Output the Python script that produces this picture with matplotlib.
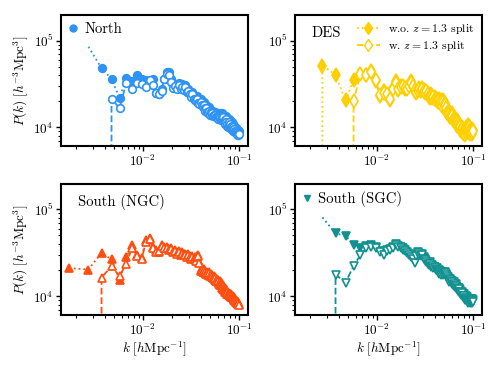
import numpy as np
import matplotlib
matplotlib.use("Agg")
import matplotlib.pyplot as plt
from matplotlib.lines import Line2D

plt.rcParams['font.family'] = ['cmr10', 'DejaVu Serif']
plt.rcParams['mathtext.fontset'] = 'cm'
plt.rcParams['axes.formatter.use_mathtext'] = True
plt.rcParams['axes.unicode_minus'] = False

nan = np.nan
# k bins (h/Mpc)
k = 0.0017 + 0.001 * np.arange(99)

north_wo = [nan, 85000, 48000, 36000, 22000, 37000, 34500, 40000, 36000, 35000,
            32000, 36500, 25000, 24000, 28000, 36000, 44000, 43500, 36000, 31000,
            32000, 30500, 32500, 29000, 31500, 29000, 30500, 27000, 28000, 25500,
            24000, 25500, 23000, 22000, 21500, 23000, 20500, 20000, 21000, 19000,
            18500, 19500, 17500, 17000, 18000, 16500, 16000, 17000, 15500, 16000,
            15000, 15500, 14500, 15000, 14500, 15000, 14000, 14500, 13500, 14000,
            14500, 13500, 14000, 13000, 14500, 13500, 13000, 14000, 12500, 13000,
            12000, 13500, 12500, 11500, 12000, 11000, 12500, 11500, 11000, 12000,
            11000, 10500, 11500, 10500, 11000, 10000, 10500, 9800, 10500, 9500,
            10000, 9200, 9800, 9000, 9500, 8800, 9200, 8700, 9000]
north_w = [nan, nan, -1000, 21300, 16700, 32500, 28000, 32500, 31500, 29500,
           35500, 31000, 25000, 24500, 26500, 36000, 41000, 40000, 33500, 28500,
           30000, 28000, 31000, 27500, 29500, 27000, 29000, 25500, 26500, 24000,
           22500, 24000, 21500, 20500, 20000, 21500, 19000, 18500, 19500, 18000,
           17000, 18000, 16500, 15500, 16500, 15000, 14500, 15500, 14000, 15000,
           14000, 14500, 13500, 14000, 13500, 14000, 13000, 13500, 12500, 13500,
           13500, 12500, 13000, 12000, 13500, 12500, 12000, 13000, 11500, 12000,
           11000, 12500, 11500, 10500, 11000, 10000, 11500, 10500, 10000, 11000,
           10000, 9700, 10500, 9600, 10000, 9200, 9700, 9000, 9600, 8800,
           9200, 8500, 9000, 8300, 8800, 8200, 8500, 8100, 8400]

des_wo = [-1000, 51600, 40400, 20400, 34700, 41400, 40400, 45000, 33800, 22700,
          26000, 23800, 20800, 28400, 33800, 27100, 30000, 29000, 27500, 28400,
          31000, 33800, 29000, 26000, 24800, 27000, 28500, 26000, 28400, 27000,
          26000, 25000, 24800, 23500, 22000, 24000, 23000, 21800, 22500, 20800,
          21500, 19500, 20800, 21500, 19000, 20500, 18000, 20800, 17500, 19000,
          16500, 17500, 15000, 16000, 14000, 15000, 13400, 14000, 13000, 14500,
          12500, 13000, 12000, 12800, 12300, 11500, 12000, 11000, 11500, 10500,
          11000, 10000, 10500, 9800, 9400, 10000, 9400, 9000, 9500, 8800,
          9400, 8500, 9000, 9800, 10200, 9500, 10700, 10000, 9200, 10500,
          9500, 8800, 9800, 9000, 9500, 8800, 9500, 9000, 9400]
des_w = [nan, nan, nan, -1000, 19900, 41000, 40000, 44000, 35000, 23500,
         25000, 24500, 21500, 27500, 32500, 28000, 29000, 30000, 28500, 27500,
         30000, 32500, 30000, 27000, 25500, 26000, 27500, 27000, 27500, 26000,
         25000, 26000, 24000, 22500, 23000, 23000, 22000, 22500, 21500, 21500,
         20500, 20000, 20000, 20500, 19500, 19500, 17500, 19500, 18000, 18000,
         15500, 16500, 14500, 15000, 14500, 14000, 13000, 13500, 13500, 13500,
         12000, 12500, 12500, 12000, 11800, 11000, 11500, 10500, 11000, 10000,
         10500, 9600, 10000, 9300, 9000, 9500, 9000, 8700, 9000, 8400,
         9000, 8200, 8600, 9300, 9700, 9000, 10200, 9500, 8800, 10000,
         9000, 8400, 9300, 8600, 9000, 8400, 9000, 8600, 9000]

ngc_wo = [21200, 20300, 31600, 26500, 15600, 28000, 38700, 29700, 27900, 44200,
          46300, 37000, 33900, 32400, 38700, 37000, 36500, 35000, 36000, 33300,
          34000, 32000, 33000, 31000, 32000, 30500, 31000, 29500, 31000, 29000,
          28000, 29000, 27200, 28000, 26500, 29000, 29700, 25000, 20000, 21000,
          19500, 20500, 19000, 19500, 18500, 19000, 18300, 18800, 17500, 18000,
          17000, 17500, 16700, 17000, 16000, 16700, 15500, 16000, 15000, 15500,
          14500, 15000, 14000, 14500, 14000, 13000, 13500, 12500, 12000, 12500,
          11700, 12000, 11500, 11000, 11500, 11000, 10700, 11000, 10500, 10700,
          10200, 10500, 10000, 10200, 9800, 10000, 9500, 9800, 9300, 9000,
          9300, 8800, 9000, 8600, 8800, 8500, 8300, 8500, 8200]
ngc_w = [nan, -1000, 16400, 22200, 17000, 23800, 36000, 29000, 27000, 42000,
         45000, 36000, 32500, 33500, 37500, 36000, 35500, 34000, 35000, 32500,
         33000, 31000, 32000, 30000, 31000, 29500, 30000, 28500, 30000, 28000,
         27000, 28000, 26500, 27000, 25500, 28000, 29000, 24000, 19500, 20000,
         19000, 20000, 18500, 19000, 18000, 18500, 17800, 18300, 17000, 17500,
         16500, 17000, 16200, 16500, 15500, 16200, 15000, 15500, 14500, 15000,
         14000, 14500, 13500, 14000, 13500, 12500, 13000, 12000, 11700, 12000,
         11300, 11700, 11200, 10700, 11200, 10700, 10400, 10700, 10200, 10400,
         9900, 10200, 9700, 9900, 9500, 9700, 9200, 9500, 9000, 8800,
         9000, 8600, 8800, 8400, 8600, 8300, 8100, 8300, 8000]

sgc_wo = [nan, 80800, 52900, 49600, 39400, 35500, 38000, 39400, 37000, 33000,
          30300, 33900, 35000, 37000, 39800, 38000, 36500, 35500, 34000, 32400,
          31000, 29000, 28000, 24900, 30000, 32400, 31000, 29700, 30500, 28000,
          27000, 25500, 24000, 23800, 24500, 22500, 23000, 21800, 22000, 20500,
          21000, 19500, 20000, 18800, 19500, 18300, 19000, 18300, 18500, 19100,
          17500, 18000, 17000, 16500, 16000, 15300, 16000, 15000, 14500, 15000,
          14000, 14500, 13500, 13200, 13800, 13000, 12800, 12500, 12000, 12500,
          11500, 11200, 11800, 11000, 10800, 11200, 10500, 10300, 10000, 10500,
          9800, 9500, 10000, 9400, 9700, 9200, 9000, 9400, 8800, 9200,
          9000, 8700, 9200, 8800, 9400, 9000, 8700, 9200, 9000]
sgc_w = [nan, -1000, 17800, 14400, 22300, 29700, 35500, 37000, 36000, 32000,
         29500, 33000, 34000, 36000, 38500, 37000, 35500, 34500, 33000, 31500,
         30000, 28000, 27000, 24000, 29000, 31500, 30000, 29000, 29500, 27000,
         26000, 24500, 23500, 23000, 23500, 21800, 22300, 21000, 21300, 20000,
         20300, 19000, 19300, 18200, 18800, 17800, 18300, 17700, 18000, 18500,
         17000, 17500, 16500, 16000, 15500, 14800, 15500, 14500, 14000, 14500,
         13500, 14000, 13000, 12800, 13300, 12500, 12300, 12000, 11600, 12000,
         11100, 10800, 11300, 10600, 10400, 10800, 10100, 9900, 9600, 10100,
         9400, 9100, 9600, 9000, 9300, 8800, 8600, 9000, 8400, 8800,
         8600, 8300, 8800, 8400, 9000, 8600, 8300, 8800, 8600]

panels = [
    dict(name='North', wo=north_wo, w=north_w, color='#2f93f3', marker='o', ms=5.5, mstart=2),
    dict(name='DES', wo=des_wo, w=des_w, color='#ffd000', marker='d', ms=7.5, mstart=0),
    dict(name='South (NGC)', wo=ngc_wo, w=ngc_w, color='#ff4e10', marker='^', ms=5.5, mstart=0),
    dict(name='South (SGC)', wo=sgc_wo, w=sgc_w, color='#129191', marker='v', ms=5.5, mstart=2),
]

fig = plt.figure(figsize=(5.0, 3.7), dpi=100)
rects = [(0.122, 0.6054, 0.374, 0.354), (0.59, 0.6054, 0.374, 0.354),
         (0.122, 0.1486, 0.374, 0.355), (0.59, 0.1486, 0.374, 0.355)]

for idx, (p, r) in enumerate(zip(panels, rects)):
    ax = fig.add_axes(r)
    ax.set_xscale('log')
    ax.set_yscale('log')
    c = p['color']
    wo = np.array(p['wo'], dtype=float)
    w = np.array(p['w'], dtype=float)
    ax.plot(k, wo, ls=':', lw=1.3, color=c, marker=p['marker'], ms=p['ms'],
            mfc=c, mec=c, mew=1.2, markevery=list(range(p['mstart'], len(k))))
    ax.plot(k, w, ls='--', lw=1.3, color=c, marker=p['marker'], ms=p['ms'],
            mfc='white', mec=c, mew=1.2)
    ax.set_xlim(1.4e-3, 0.124)
    ax.set_ylim(6.1e3, 1.97e5)
    for s in ax.spines.values():
        s.set_linewidth(1.5)
    ax.tick_params(which='both', direction='out', labelsize=9.5, width=1.0, pad=2)
    ax.tick_params(which='major', length=3.5)
    ax.tick_params(which='minor', length=2.0, width=0.8)
    ax.set_xticks([1e-2, 1e-1])
    ax.set_yticks([1e4, 1e5])
    if idx % 2 == 0:
        ax.set_ylabel(r'$P(k)\ [h^{-3}\mathrm{Mpc}^3]$', fontsize=9.5, labelpad=2)
    if idx >= 2:
        ax.set_xlabel(r'$k\ [h\mathrm{Mpc}^{-1}]$', fontsize=9.5, labelpad=1)

    if p['name'] in ('North', 'South (SGC)'):
        h = Line2D([], [], ls='none', marker=p['marker'], ms=p['ms'] - 0.5, mfc=c, mec=c)
        ax.legend([h], [p['name']], loc='upper left', frameon=False, fontsize=10.5,
                  handlelength=0.6, handletextpad=0.5, borderaxespad=0.2,
                  borderpad=0.3)
    elif p['name'] == 'DES':
        ax.text(0.09, 0.86, 'DES', transform=ax.transAxes, fontsize=10.5,
                ha='left', va='center')
        h1 = Line2D([], [], ls=':', lw=1.3, color=c, marker='d', ms=6.5, mfc=c, mec=c)
        h2 = Line2D([], [], ls='--', lw=1.3, color=c, marker='d', ms=6.5, mfc='white', mec=c)
        ax.legend([h1, h2], [r'w.o. $z=1.3$ split', r'w. $z=1.3$ split'],
                  loc='upper right', frameon=False, fontsize=8.5,
                  handlelength=2.0, handletextpad=0.7, borderaxespad=0.2,
                  labelspacing=0.25)
    else:
        ax.text(0.09, 0.86, p['name'], transform=ax.transAxes, fontsize=10.5,
                ha='left', va='center')

fig.savefig('out.png', dpi=100)
